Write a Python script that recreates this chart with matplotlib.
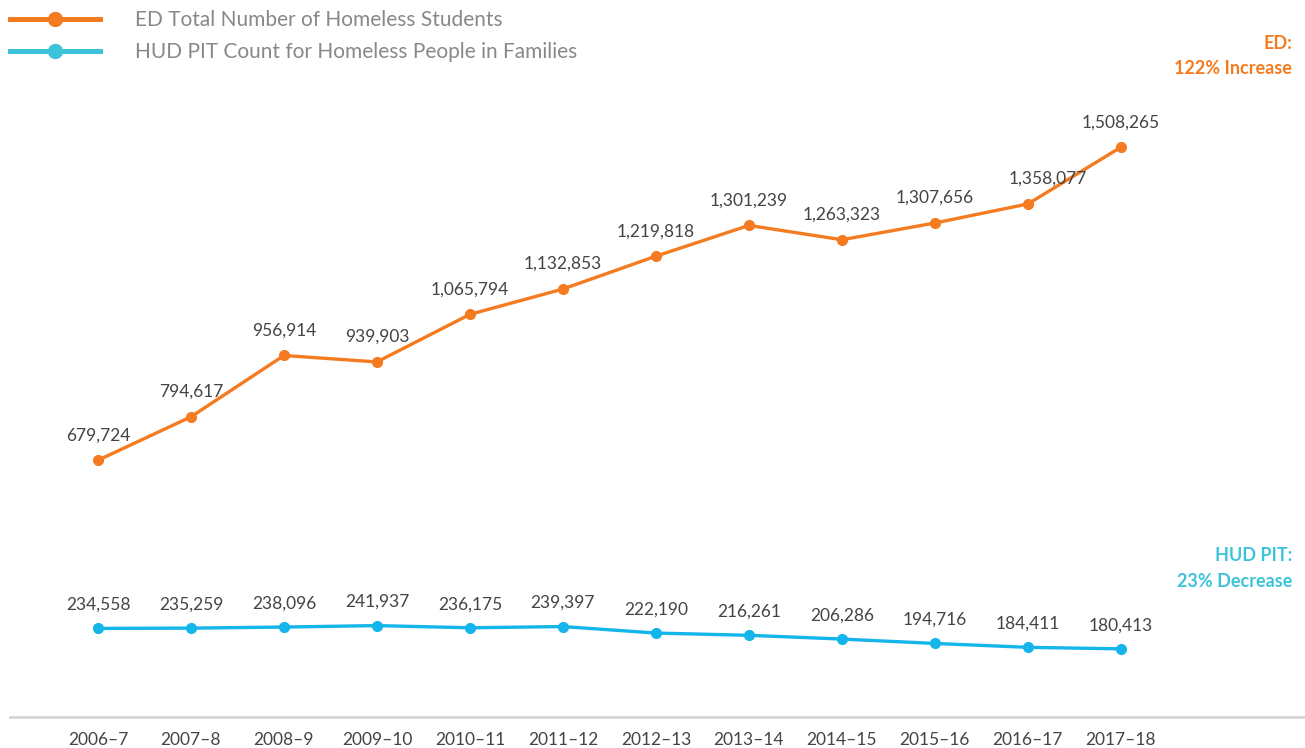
import matplotlib
matplotlib.use("Agg")
import matplotlib.pyplot as plt

years = ["2006–7", "2007–8", "2008–9", "2009–10", "2010–11", "2011–12",
         "2012–13", "2013–14", "2014–15", "2015–16", "2016–17", "2017–18"]
ed_students = [679724, 794617, 956914, 939903, 1065794, 1132853,
               1219818, 1301239, 1263323, 1307656, 1358077, 1508265]
hud_families = [234558, 235259, 238096, 241937, 236175, 239397,
                222190, 216261, 206286, 194716, 184411, 180413]

ORANGE = "#F47B20"
BLUE = "#13B5EA"
TEAL = "#3CC3D9"
plt.rcParams["font.family"] = ["Lato", "DejaVu Sans"]

fig = plt.figure(figsize=(13.05, 7.48), dpi=100)
# axes spans the grey base line (y=717px) up to near the top
ax = fig.add_axes([10 / 1305, 31 / 748, 1295 / 1305, 697 / 748])

x = list(range(len(years)))
ax.plot(x, ed_students, color=ORANGE, lw=2.4, marker="o", ms=7, zorder=3,
        label="ED Total Number of Homeless Students")
ax.plot(x, hud_families, color=BLUE, lw=2.4, marker="o", ms=7, zorder=3,
        label="HUD PIT Count for Homeless People in Families")

for i, v in enumerate(ed_students):
    dx = 14 if i == 10 else 0
    ax.annotate(f"{v:,}", (i, v), xytext=(dx, 18), textcoords="offset points",
                ha="center", va="center", fontsize=12.5, color="#444444")
for i, v in enumerate(hud_families):
    ax.annotate(f"{v:,}", (i, v), xytext=(0, 17), textcoords="offset points",
                ha="center", va="center", fontsize=12.5, color="#444444")

ax.set_xlim(-0.946, 12.98)
ax.set_ylim(0, 1845000)
ax.set_xticks(x)
ax.set_xticklabels(years, fontsize=12.5, color="#444444")
ax.tick_params(axis="x", length=0, pad=11)
ax.set_yticks([])
for side in ["top", "right", "left"]:
    ax.spines[side].set_visible(False)
ax.spines["bottom"].set_color("#D5D5D5")
ax.spines["bottom"].set_linewidth(2)

# series notes on the right
ax.text(0.99, 0.966, "ED:", transform=ax.transAxes, ha="right", va="center",
        fontsize=13, fontweight="bold", color=ORANGE)
ax.text(0.99, 0.930, "122% Increase", transform=ax.transAxes, ha="right",
        va="center", fontsize=13, fontweight="bold", color=ORANGE)
ax.text(0.99, 0.231, "HUD PIT:", transform=ax.transAxes, ha="right",
        va="center", fontsize=13, fontweight="bold", color=TEAL)
ax.text(0.99, 0.195, "23% Decrease", transform=ax.transAxes, ha="right",
        va="center", fontsize=13, fontweight="bold", color=TEAL)

leg_handles = [
    plt.Line2D([], [], color=ORANGE, lw=3.6, marker="o", ms=10),
    plt.Line2D([], [], color=TEAL, lw=3.6, marker="o", ms=10),
]
leg = fig.legend(leg_handles,
                 ["ED Total Number of Homeless Students",
                  "HUD PIT Count for Homeless People in Families"],
                 loc="upper left", bbox_to_anchor=(0.0, 1.0), frameon=False,
                 fontsize=15, handlelength=4.3, handletextpad=1.7,
                 labelspacing=0.55, borderaxespad=0.1, markerfirst=True)
for t in leg.get_texts():
    t.set_color("#888888")

fig.savefig("out.png", dpi=100)
